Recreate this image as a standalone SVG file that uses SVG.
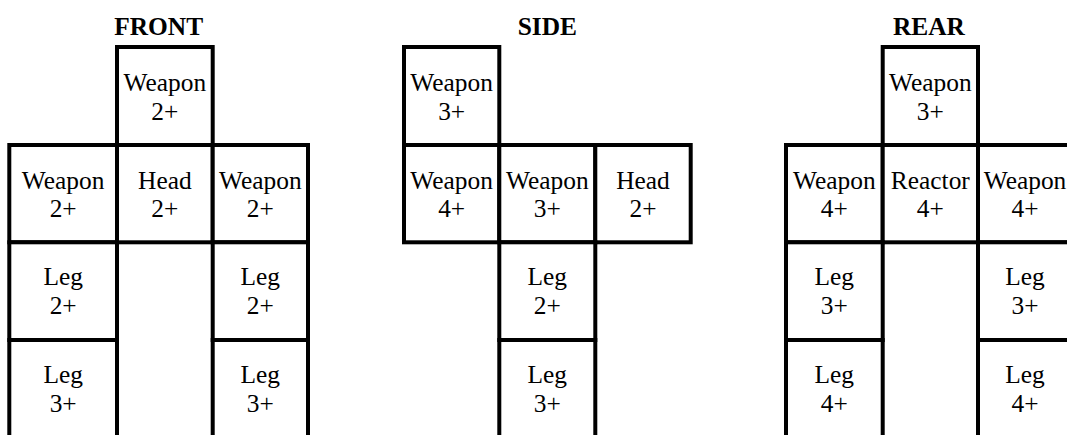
<svg xmlns="http://www.w3.org/2000/svg" width="1067" height="435" viewBox="0 0 1067 435">
<style>
  .cell rect { fill: #ffffff; stroke: #000000; stroke-width: 4; }
  .t { font-family: 'Liberation Serif', 'DejaVu Serif', serif; font-size: 25.4px; fill: #000000; text-anchor: middle; }
  .title { font-family: 'Liberation Serif', 'DejaVu Serif', serif; font-size: 25.4px; font-weight: bold; fill: #000000; text-anchor: middle; }
</style>
<rect x="0" y="0" width="1067" height="435" fill="#ffffff"/>
<g id="titles">
  <text class="title" x="158.7" y="35">FRONT</text>
  <text class="title" x="547.3" y="35">SIDE</text>
  <text class="title" x="929" y="35">REAR</text>
</g>
<g id="connectors"></g>
<!-- FRONT -->
<g id="front-weapon-top" class="cell"><rect x="117" y="47" width="95.7" height="98"/><text class="t" x="164.85" y="90.5">Weapon</text><text class="t" x="164.85" y="119.5">2+</text></g>
<g id="front-weapon-left" class="cell"><rect x="9.3" y="145" width="107.7" height="97.3"/><text class="t" x="63.15" y="188.5">Weapon</text><text class="t" x="63.15" y="217">2+</text></g>
<g id="front-head" class="cell"><rect x="117" y="145" width="95.7" height="97.3"/><text class="t" x="164.85" y="188.5">Head</text><text class="t" x="164.85" y="217">2+</text></g>
<g id="front-weapon-right" class="cell"><rect x="212.7" y="145" width="95.3" height="97.3"/><text class="t" x="260.35" y="188.5">Weapon</text><text class="t" x="260.35" y="217">2+</text></g>
<g id="front-leg-left-1" class="cell"><rect x="9.3" y="242.3" width="107.7" height="97.7"/><text class="t" x="63.15" y="285.3">Leg</text><text class="t" x="63.15" y="313.8">2+</text></g>
<g id="front-leg-right-1" class="cell"><rect x="212.7" y="242.3" width="95.3" height="97.7"/><text class="t" x="260.35" y="285.3">Leg</text><text class="t" x="260.35" y="313.8">2+</text></g>
<g id="front-leg-left-2" class="cell"><rect x="9.3" y="340" width="107.7" height="97.7"/><text class="t" x="63.15" y="383">Leg</text><text class="t" x="63.15" y="411.7">3+</text></g>
<g id="front-leg-right-2" class="cell"><rect x="212.7" y="340" width="95.3" height="97.7"/><text class="t" x="260.35" y="383">Leg</text><text class="t" x="260.35" y="411.7">3+</text></g>
<!-- SIDE -->
<g id="side-weapon-top" class="cell"><rect x="404" y="47" width="95.3" height="98"/><text class="t" x="451.65" y="90.5">Weapon</text><text class="t" x="451.65" y="119.5">3+</text></g>
<g id="side-weapon-left" class="cell"><rect x="404" y="145" width="95.3" height="97.3"/><text class="t" x="451.65" y="188.5">Weapon</text><text class="t" x="451.65" y="217">4+</text></g>
<g id="side-weapon-mid" class="cell"><rect x="499.3" y="145" width="96" height="97.3"/><text class="t" x="547.3" y="188.5">Weapon</text><text class="t" x="547.3" y="217">3+</text></g>
<g id="side-head" class="cell"><rect x="595.3" y="145" width="95.4" height="97.3"/><text class="t" x="643" y="188.5">Head</text><text class="t" x="643" y="217">2+</text></g>
<g id="side-leg-1" class="cell"><rect x="499.3" y="242.3" width="96" height="97.7"/><text class="t" x="547.3" y="285.3">Leg</text><text class="t" x="547.3" y="313.8">2+</text></g>
<g id="side-leg-2" class="cell"><rect x="499.3" y="340" width="96" height="97.7"/><text class="t" x="547.3" y="383">Leg</text><text class="t" x="547.3" y="411.7">3+</text></g>
<!-- REAR -->
<g id="rear-weapon-top" class="cell"><rect x="882.7" y="47" width="95.3" height="98"/><text class="t" x="930.35" y="90.5">Weapon</text><text class="t" x="930.35" y="119.5">3+</text></g>
<g id="rear-weapon-left" class="cell"><rect x="786" y="145" width="96.7" height="97.3"/><text class="t" x="834.35" y="188.5">Weapon</text><text class="t" x="834.35" y="217">4+</text></g>
<g id="rear-reactor" class="cell"><rect x="882.7" y="145" width="95.3" height="97.3"/><text class="t" x="930.35" y="188.5">Reactor</text><text class="t" x="930.35" y="217">4+</text></g>
<g id="rear-weapon-right" class="cell"><rect x="978" y="145" width="94" height="97.3"/><text class="t" x="1025" y="188.5">Weapon</text><text class="t" x="1025" y="217">4+</text></g>
<g id="rear-leg-left-1" class="cell"><rect x="786" y="242.3" width="96.7" height="97.7"/><text class="t" x="834.35" y="285.3">Leg</text><text class="t" x="834.35" y="313.8">3+</text></g>
<g id="rear-leg-right-1" class="cell"><rect x="978" y="242.3" width="94" height="97.7"/><text class="t" x="1025" y="285.3">Leg</text><text class="t" x="1025" y="313.8">3+</text></g>
<g id="rear-leg-left-2" class="cell"><rect x="786" y="340" width="96.7" height="97.7"/><text class="t" x="834.35" y="383">Leg</text><text class="t" x="834.35" y="411.7">4+</text></g>
<g id="rear-leg-right-2" class="cell"><rect x="978" y="340" width="94" height="97.7"/><text class="t" x="1025" y="383">Leg</text><text class="t" x="1025" y="411.7">4+</text></g>
</svg>
